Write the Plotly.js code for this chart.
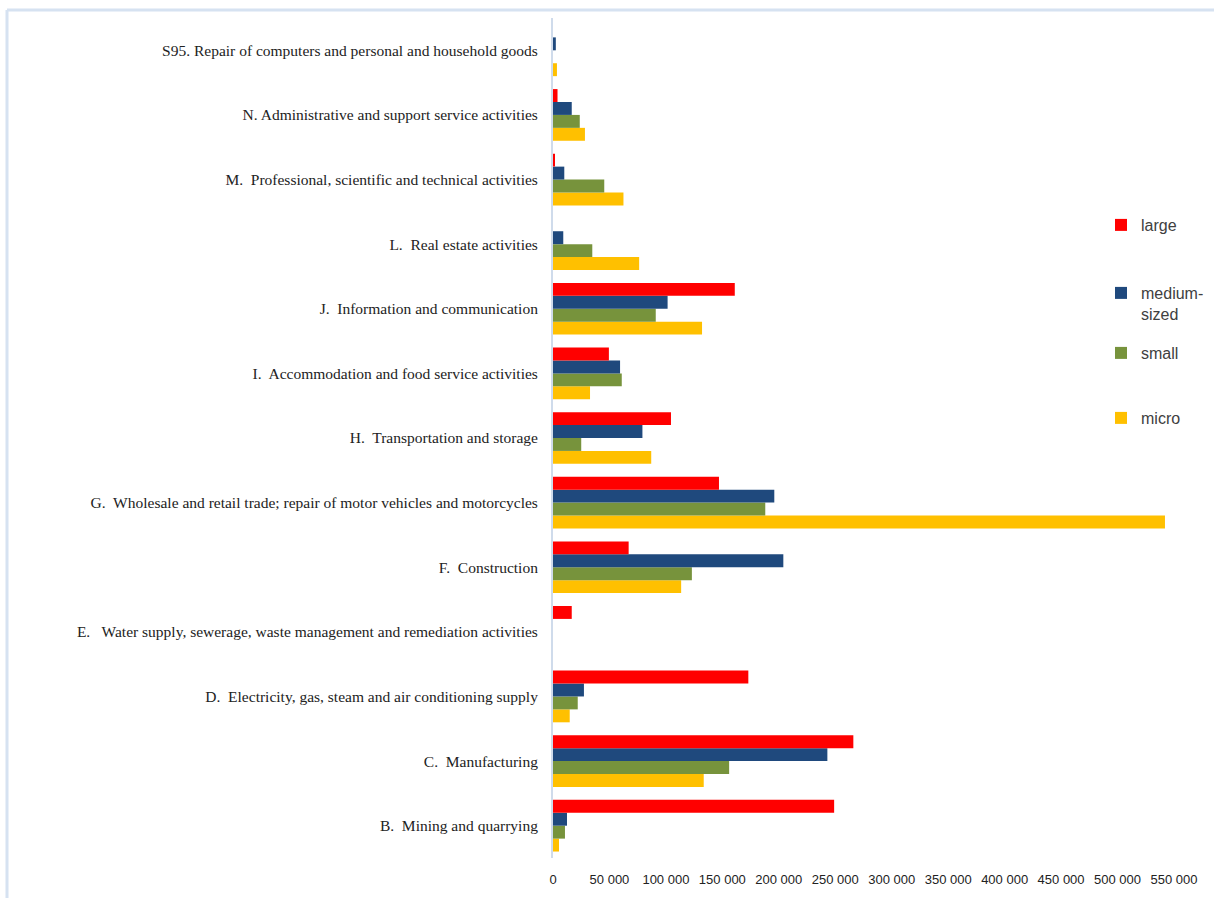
<!DOCTYPE html>
<html>
<head>
<meta charset="utf-8">
<script src="https://cdn.plot.ly/plotly-3.0.1.min.js"></script>
<style>
html,body{margin:0;padding:0;background:#fff;overflow:hidden;}
#chart{width:1214px;height:898px;}
</style>
</head>
<body>
<div id="chart"></div>
<script>
var categories = [
  "B.\u00a0 Mining and quarrying",
  "C.\u00a0 Manufacturing",
  "D.\u00a0 Electricity, gas, steam and air conditioning supply",
  "E.\u00a0\u00a0 Water supply, sewerage, waste management and remediation activities",
  "F.\u00a0 Construction",
  "G.\u00a0 Wholesale and retail trade; repair of motor vehicles and motorcycles",
  "H.\u00a0 Transportation and storage",
  "I.\u00a0 Accommodation and food service activities",
  "J.\u00a0 Information and communication",
  "L.\u00a0 Real estate activities",
  "M.\u00a0 Professional, scientific and technical activities",
  "N. Administrative and support service activities",
  "S95. Repair of computers and personal and household goods"
];
var large  = [249000, 266000, 173000, 16600, 67000, 147000, 104500, 49500, 161000, 0, 1500, 4000, 0];
var medium = [12400, 243000, 27400, 0, 204000, 196000, 79200, 59400, 101500, 9100, 10000, 16600, 2500];
var small  = [10600, 156000, 21900, 0, 123000, 188000, 25000, 60900, 91000, 34800, 45400, 23700, 0];
var micro  = [5300, 133500, 14800, 0, 113500, 542000, 87000, 32800, 132000, 76300, 62400, 28300, 3500];
var seriesNames = ["micro", "small", "medium-<br>sized", "large"];
var colors = ["#FFC000", "#77933C", "#1F497D", "#FF0000"];
var xTicks = [0, 50000, 100000, 150000, 200000, 250000, 300000, 350000, 400000, 450000, 500000, 550000];

var L = 553, W = 621, T = 18, H = 840;
function px(x){ return (x - L) / W; }
function py(y){ return (T + H - y) / H; }

var data = [micro, small, medium, large].map(function(vals, i){
  return {
    type: "bar", orientation: "h",
    y: categories, x: vals,
    name: seriesNames[i],
    marker: {color: colors[i]},
    legend: ["legend4", "legend3", "legend2", "legend"][i],
    hoverinfo: "x+y"
  };
});

var legendFont = {family: "Liberation Sans Narrow, Arial Narrow, Liberation Sans, sans-serif", size: 16, color: "#404040"};
function mkLegend(ypx, valign){
  return {x: px(1101), xanchor: "left", y: py(ypx), yanchor: "middle",
          font: legendFont, bgcolor: "rgba(0,0,0,0)", borderwidth: 0, valign: valign || "middle"};
}

var layout = {
  width: 1214, height: 898,
  margin: {l: L, r: 1214 - L - W, t: T, b: 898 - T - H, pad: 0, autoexpand: false},
  paper_bgcolor: "#ffffff", plot_bgcolor: "#ffffff",
  barmode: "group", bargap: 0.2, bargroupgap: 0,
  separators: ". ",
  showlegend: true,
  legend: mkLegend(225),
  legend2: mkLegend(303.5, "top"),
  legend3: mkLegend(353),
  legend4: mkLegend(418),
  xaxis: {
    range: [0, 550000], tickvals: xTicks, tickformat: ",d",
    showgrid: false, zeroline: false, showline: false, ticks: "",
    ticklabelstandoff: 12,
    tickfont: {family: "Liberation Sans Narrow, Arial Narrow, Liberation Sans, sans-serif", size: 13, color: "#222"}
  },
  yaxis: {
    type: "category", categoryorder: "array", categoryarray: categories,
    showgrid: false, zeroline: false, showline: true, linecolor: "#cfdbeb", linewidth: 2,
    ticks: "", ticklabelstandoff: 10,
    tickfont: {family: "Liberation Serif, Times New Roman, serif", size: 15.5, color: "#222"}
  },
  shapes: [
    {type: "line", xref: "paper", yref: "paper", x0: px(7), x1: px(1214), y0: py(10), y1: py(10), line: {color: "#d6e2f1", width: 3}},
    {type: "line", xref: "paper", yref: "paper", x0: px(7), x1: px(7), y0: py(10), y1: py(898), line: {color: "#d6e2f1", width: 3}}
  ]
};

Plotly.newPlot("chart", data, layout, {displayModeBar: false});
</script>
</body>
</html>
